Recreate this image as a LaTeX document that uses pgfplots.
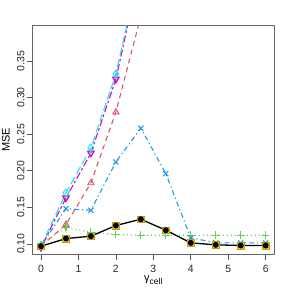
\documentclass[border=0pt]{standalone}
\usepackage{pgfplots}
\pgfplotsset{compat=1.18}
\usepackage{fontspec}
\setmainfont{Liberation Sans}
\definecolor{rred}{HTML}{DF536B}
\definecolor{rgreen}{HTML}{61D04F}
\definecolor{rblue}{HTML}{2297E6}
\definecolor{rcyan}{HTML}{28E2E5}
\definecolor{rmag}{HTML}{CD0BBC}
\definecolor{ryel}{HTML}{F5C710}
\begin{document}
\begin{tikzpicture}
\path[use as bounding box] (-32.3bp,-33.5bp) rectangle (255.7bp,254.5bp);
\begin{axis}[
  name=ax,
  at={(0,0)}, anchor=south west,
  scale only axis, width=242bp, height=228.8bp,
  xmin=-0.232, xmax=6.23, ymin=0.0854, ymax=0.398,
  axis line style={black!60, line width=0.7bp},
  xtick={0,1,2,3,4,5,6},
  ytick={0.10,0.15,0.20,0.25,0.30,0.35},
  yticklabels={0.10,0.15,0.20,0.25,0.30,0.35},
  tick align=outside, tick pos=left, major tick length=5.5bp,
  tick style={black!65, line width=0.6bp},
  /pgf/number format/assume math mode=true,
  tick label style={font=\fontsize{10.5}{12}\selectfont, black!85},
  xticklabel style={anchor=north, inner sep=0pt, yshift=-5bp},
  yticklabel style={xshift=-2bp, rotate=90, anchor=south, inner sep=0pt},
  clip mode=global,
]
% red dashed, triangles
\addplot[rred, line width=1.1bp, dash pattern=on 5bp off 4bp, mark=triangle, mark size=3.6bp, mark options={solid, line width=0.9bp}]
coordinates {(0,0.097) (0.667,0.1263) (1.333,0.1832) (2,0.280) (2.667,0.411)};
% green dotted, plus
\addplot[rgreen, line width=1.1bp, dash pattern=on 1bp off 3bp, mark=+, mark size=3.8bp, mark options={solid, line width=1.1bp}]
coordinates {(0,0.099) (0.667,0.1227) (1.333,0.1158) (2,0.1127) (2.667,0.1117) (3.333,0.1117) (4,0.1117) (4.667,0.1117) (5.333,0.1117) (6,0.1117)};
% blue dotdash, x
\addplot[rblue, line width=1.1bp, dash pattern=on 1.2bp off 3bp on 5bp off 3bp, mark=x, mark size=3.6bp, mark options={solid, line width=1.1bp}]
coordinates {(0,0.097) (0.667,0.148) (1.333,0.1458) (2,0.2118) (2.667,0.258) (3.333,0.1959) (4,0.1082) (4.667,0.1014) (5.333,0.1012) (6,0.1012)};
% magenta twodash, down triangles
\addplot[rmag, line width=1.1bp, dash pattern=on 2.5bp off 2.5bp on 7bp off 2.5bp, mark=triangle, mark size=3.6bp, mark options={solid, rotate=180, line width=1.3bp}]
coordinates {(0,0.095) (0.667,0.1627) (1.333,0.224) (2,0.325) (2.667,0.480)};
% cyan longdash, diamonds
\addplot[rcyan, line width=1.1bp, dash pattern=on 8bp off 3.5bp, mark=diamond, mark size=4bp, mark options={solid, line width=1bp}]
coordinates {(0,0.097) (0.667,0.1695) (1.333,0.2309) (2,0.332) (2.667,0.485)};
% black solid with yellow squares
\addplot[only marks, mark=square*, mark size=3.3bp, mark options={fill=ryel, draw=ryel!80!black, line width=0.4bp}]
coordinates {(0,0.0967) (0.667,0.1072) (1.333,0.1104) (2,0.125) (2.667,0.1336) (3.333,0.1186) (4,0.1013) (4.667,0.0986) (5.333,0.0977) (6,0.0977)};
\addplot[black, line width=1.3bp, mark=*, mark size=2.3bp]
coordinates {(0,0.0967) (0.667,0.1072) (1.333,0.1104) (2,0.125) (2.667,0.1336) (3.333,0.1186) (4,0.1013) (4.667,0.0986) (5.333,0.0977) (6,0.0977)};
\end{axis}
\node[rotate=90, anchor=north, inner sep=0pt, font=\fontsize{11}{12}\selectfont] at ([xshift=-30.6bp]ax.west) {MSE};
\node[anchor=north, inner sep=0pt, font=\fontsize{11}{12}\selectfont] at ([yshift=-21.5bp]ax.south) {γ\raisebox{-0.35ex}{\fontsize{8.5}{9}\selectfont cell}};
\end{tikzpicture}
\end{document}
